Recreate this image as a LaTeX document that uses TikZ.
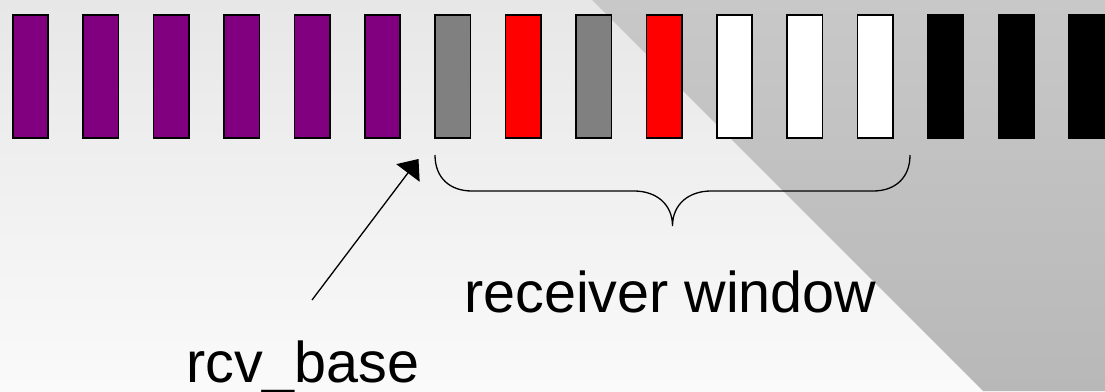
\documentclass[tikz,border=0pt]{standalone}
\usepackage{fontspec}
\setmainfont{Liberation Sans}
\usetikzlibrary{arrows.meta}
\definecolor{bgtop}{HTML}{E7E7E7}
\definecolor{bgbot}{HTML}{FAFAFA}
\definecolor{tritop}{HTML}{C8C8C8}
\definecolor{tribot}{HTML}{B8B8B8}
\definecolor{slotpurple}{HTML}{800080}
\definecolor{slotgray}{HTML}{808080}
\definecolor{slotred}{HTML}{FF0000}
\begin{document}
\begin{tikzpicture}[x=1pt,y=-1pt,
  slot/.style={draw=black,line width=1.6pt,minimum width=35.4pt,minimum height=123.4pt,
    inner sep=0pt,outer sep=0pt,anchor=north west},
  lbl/.style={font=\fontsize{57.5}{60}\selectfont,inner sep=0pt,anchor=base west},
  bracestyle/.style={draw=black,line width=1.3pt},
  pointer/.style={draw=black,line width=1.3pt,-{Triangle[length=17.5pt,width=29pt]}}]
\useasboundingbox (0,0) rectangle (1105,391);
\shade[top color=bgtop,bottom color=bgbot] (0,0) rectangle (1105,391);
\shade[top color=tritop,bottom color=tribot] (592,0) -- (1105,0) -- (1105,391) -- (983,391) -- cycle;
\foreach \i/\c in {0/slotpurple,1/slotpurple,2/slotpurple,3/slotpurple,4/slotpurple,5/slotpurple,
  6/slotgray,7/slotred,8/slotgray,9/slotred,10/white,11/white,12/white,13/black,14/black,15/black}{
  \node[slot,fill=\c] (r\i) at ({12.8+70.4*\i},14.8) {};
}
% brace
\coordinate (bl) at (435,155);
\coordinate (bm) at (672.5,226);
\coordinate (br) at (910,155);
\draw[bracestyle] (bl) .. controls (435,178) and (450,191) .. (472,191) -- (634,191)
  .. controls (656,191) and (672.5,204) .. (bm)
  .. controls (672.5,204) and (689,191) .. (711,191) -- (873,191)
  .. controls (895,191) and (910,178) .. (br);
% labels
\node[lbl] (win) at (464,312) {receiver window};
\node[lbl] (base) at (186,382) {rcv\_base};
\coordinate (atail) at (312,300);
\coordinate (ahead) at (418.5,159);
\draw[pointer] (atail) -- (ahead);
\end{tikzpicture}
\end{document}
